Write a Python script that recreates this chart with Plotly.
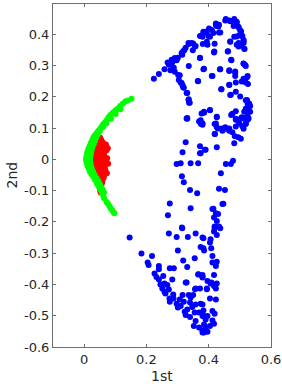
import plotly.graph_objects as go

# ---------------- data ----------------
blue_pts = [
    (0.224,0.258),(0.240,0.273),(0.258,0.288),(0.268,0.310),(0.272,0.303),(0.277,0.285),
    (0.281,0.319),(0.283,0.310),(0.288,0.293),(0.291,0.280),(0.291,0.324),(0.297,0.317),
    (0.301,0.325),(0.302,0.270),(0.304,0.254),(0.307,0.269),(0.310,0.246),(0.313,0.340),
    (0.313,0.244),(0.315,0.335),(0.316,0.237),(0.318,0.346),(0.318,0.231),(0.320,0.229),
    (0.322,0.350),(0.326,0.357),(0.329,0.212),(0.331,0.212),(0.335,0.190),(0.335,0.372),
    (0.336,0.369),(0.336,0.299),(0.336,0.192),(0.337,0.181),(0.339,0.181),(0.345,0.372),
    (0.349,0.349),(0.350,0.371),(0.356,0.361),(0.358,0.363),(0.365,0.251),(0.366,0.250),
    (0.372,0.325),(0.372,0.395),(0.372,0.324),(0.381,0.369),(0.383,0.408),(0.383,0.404),
    (0.383,0.288),(0.385,0.290),(0.380,0.392),(0.385,0.406),(0.394,0.409),(0.394,0.376),
    (0.396,0.367),(0.399,0.395),(0.401,0.419),(0.404,0.392),(0.410,0.414),(0.410,0.267),
    (0.412,0.267),(0.415,0.404),(0.417,0.342),(0.418,0.345),(0.419,0.370),(0.423,0.435),
    (0.423,0.430),(0.426,0.427),(0.431,0.425),(0.433,0.431),(0.433,0.406),(0.436,0.288),
    (0.437,0.406),(0.437,0.288),(0.440,0.224),(0.441,0.224),(0.453,0.444),(0.455,0.449),
    (0.461,0.345),(0.462,0.346),(0.466,0.444),(0.466,0.285),(0.466,0.283),(0.466,0.239),
    (0.466,0.238),(0.469,0.442),(0.469,0.376),(0.469,0.377),(0.469,0.206),(0.471,0.207),
    (0.472,0.319),(0.473,0.317),(0.480,0.441),(0.480,0.427),(0.482,0.449),(0.482,0.392),
    (0.485,0.278),(0.485,0.281),(0.485,0.267),(0.487,0.246),(0.487,0.216),(0.490,0.440),
    (0.490,0.436),(0.490,0.393),(0.490,0.367),(0.495,0.424),(0.496,0.423),(0.496,0.372),
    (0.496,0.361),(0.498,0.397),(0.501,0.413),(0.501,0.365),(0.501,0.201),(0.504,0.409),
    (0.506,0.395),(0.506,0.249),(0.508,0.395),(0.512,0.378),(0.512,0.382),(0.512,0.372),
    (0.512,0.306),(0.512,0.307),(0.512,0.258),(0.514,0.354),(0.515,0.353),(0.515,0.254),
    (0.517,0.302),(0.519,0.299),(0.519,0.246),(0.519,0.189),(0.523,0.263),(0.523,0.190),
    (0.525,0.267),(0.525,0.178),(0.526,0.241),(0.530,0.179),(0.530,0.168),(0.533,0.171),
    (0.519,0.162),(0.526,0.163),(0.514,0.152),(0.533,0.152),(0.525,0.139),(0.512,0.132),
    (0.487,0.154),(0.476,0.146),(0.487,0.130),(0.503,0.130),(0.404,0.157),(0.385,0.149),
    (0.426,0.136),(0.385,0.152),(0.374,0.125),(0.331,0.132),(0.329,0.131),
    (0.331,0.130),(0.372,0.122),(0.380,0.111),(0.377,0.147),(0.369,0.121),(0.375,0.113),
    (0.404,0.158),(0.426,0.135),(0.423,0.115),(0.429,0.099),(0.420,0.081),(0.442,0.099),
    (0.453,0.103),(0.466,0.099),(0.472,0.142),(0.490,0.128),(0.506,0.135),(0.519,0.113),
    (0.528,0.131),(0.523,0.158),(0.487,0.105),(0.380,0.116),(0.419,0.113),(0.426,0.103),
    (0.419,0.081),(0.444,0.092),(0.455,0.098),(0.466,0.092),(0.476,0.087),(0.484,0.074),
    (0.495,0.071),(0.503,0.066),(0.482,0.052),(0.487,0.127),(0.498,0.116),(0.508,0.106),
    (0.519,0.116),(0.525,0.127),(0.512,0.098),(0.326,0.055),(0.372,0.042),(0.387,0.031),
    (0.390,0.031),(0.316,0.023),(0.372,0.020),(0.374,0.020),(0.426,0.039),(0.297,-0.015),
    (0.310,-0.012),(0.342,-0.012),(0.366,-0.012),(0.455,-0.015),(0.471,-0.015),(0.478,-0.004),
    (0.314,-0.054),(0.320,-0.073),(0.439,-0.044),(0.340,-0.098),(0.363,-0.108),(0.433,-0.094),
    (0.452,-0.098),(0.275,-0.141),(0.342,-0.156),(0.444,-0.143),(0.447,-0.142),(0.269,-0.179),
    (0.412,-0.159),(0.415,-0.158),(0.423,-0.172),(0.430,-0.175),(0.417,-0.186),(0.426,-0.197),
    (0.419,-0.215),(0.433,-0.215),(0.437,-0.220),(0.314,-0.218),(0.315,-0.220),(0.419,-0.220),
    (0.417,-0.231),(0.426,-0.242),(0.272,-0.237),(0.297,-0.248),(0.333,-0.248),(0.358,-0.237),
    (0.380,-0.250),(0.146,-0.250),
    (0.406,-0.255),(0.404,-0.266),(0.383,-0.252),(0.301,-0.291),(0.374,-0.280),(0.385,-0.291),
    (0.383,-0.284),(0.408,-0.284),(0.184,-0.301),(0.218,-0.309),(0.412,-0.309),(0.204,-0.330),
    (0.207,-0.338),(0.240,-0.341),(0.318,-0.323),(0.355,-0.316),(0.412,-0.330),(0.426,-0.327),
    (0.423,-0.341),(0.275,-0.348),(0.288,-0.348),(0.331,-0.344),(0.240,-0.351),(0.226,-0.365),
    (0.232,-0.376),(0.240,-0.384),(0.254,-0.373),(0.283,-0.384),(0.366,-0.368),(0.380,-0.376),
    (0.367,-0.367),(0.380,-0.370),(0.417,-0.370),(0.380,-0.378),(0.245,-0.400),(0.258,-0.397),
    (0.267,-0.402),(0.251,-0.413),(0.272,-0.416),(0.329,-0.394),(0.326,-0.394),(0.358,-0.413),
    (0.372,-0.413),(0.356,-0.415),(0.394,-0.415),(0.396,-0.389),(0.406,-0.397),(0.417,-0.405),
    (0.426,-0.397),(0.394,-0.413),(0.423,-0.413),(0.409,-0.394),(0.420,-0.405),(0.258,-0.423),
    (0.261,-0.429),(0.286,-0.432),(0.316,-0.434),(0.336,-0.434),(0.350,-0.434),(0.342,-0.442),
    (0.274,-0.445),(0.287,-0.445),(0.307,-0.448),(0.404,-0.445),(0.423,-0.448),(0.275,-0.455),
    (0.320,-0.455),(0.340,-0.458),(0.297,-0.462),(0.358,-0.464),(0.380,-0.464),(0.374,-0.462),
    (0.310,-0.469),(0.301,-0.474),(0.347,-0.472),(0.331,-0.480),(0.383,-0.483),(0.412,-0.485),
    (0.323,-0.487),(0.355,-0.490),(0.369,-0.490),(0.419,-0.494),(0.326,-0.498),(0.385,-0.501),
    (0.396,-0.501),(0.380,-0.501),(0.340,-0.504),(0.390,-0.512),(0.412,-0.515),(0.358,-0.517),
    (0.417,-0.526),(0.385,-0.528),(0.352,-0.533),(0.404,-0.533),(0.369,-0.538),(0.390,-0.538),
    (0.380,-0.547),(0.396,-0.551),(0.380,-0.554),(0.385,-0.554),
]

green_pts = [
    (0.152,0.194),(0.140,0.188),(0.132,0.185),(0.124,0.178),(0.116,0.171),(0.108,0.163),
    (0.100,0.156),(0.092,0.149),(0.084,0.142),(0.078,0.134),(0.073,0.126),(0.068,0.120),
    (0.062,0.113),(0.057,0.106),(0.052,0.099),(0.046,0.092),(0.041,0.085),(0.035,0.078),
    (0.030,0.071),(0.026,0.062),(0.022,0.053),(0.018,0.044),(0.014,0.035),(0.011,0.026),
    (0.009,0.017),(0.007,0.008),(0.006,-0.002),(0.008,-0.011),(0.011,-0.021),(0.015,-0.030),
    (0.019,-0.040),(0.024,-0.048),(0.030,-0.056),(0.035,-0.066),(0.041,-0.077),(0.046,-0.086),
    (0.052,-0.096),(0.057,-0.106),(0.061,-0.116),(0.064,-0.124),
    (0.072,-0.136),(0.077,-0.143),(0.082,-0.151),(0.086,-0.157),(0.090,-0.163),(0.094,-0.168),
    (0.097,-0.172),
    (0.117,0.160),(0.101,0.145),(0.086,0.130),(0.071,0.115),(0.061,0.104),(0.050,0.090),
    (0.044,0.080),(0.039,0.070),(0.035,0.060),(0.031,0.050),(0.027,0.040),(0.024,0.030),
    (0.022,0.020),(0.020,0.010),(0.019,0.000),(0.020,-0.010),(0.022,-0.020),(0.025,-0.030),
    (0.029,-0.040),(0.034,-0.050),(0.040,-0.060),(0.046,-0.070),(0.051,-0.080),(0.056,-0.090),
    (0.060,-0.098),(0.064,-0.106),
]

red_pts = [
    (0.051,0.070),(0.047,0.062),(0.055,0.062),(0.043,0.054),(0.051,0.054),(0.060,0.054),
    (0.040,0.046),(0.048,0.046),(0.056,0.046),(0.066,0.046),(0.070,0.048),
    (0.037,0.038),(0.045,0.038),(0.053,0.038),(0.061,0.038),(0.070,0.038),(0.076,0.036),
    (0.035,0.030),(0.043,0.030),(0.051,0.030),(0.059,0.030),(0.067,0.030),(0.072,0.029),
    (0.033,0.022),(0.041,0.022),(0.049,0.022),(0.057,0.022),(0.065,0.022),
    (0.032,0.014),(0.040,0.014),(0.048,0.014),(0.056,0.014),(0.063,0.014),
    (0.031,0.006),(0.039,0.006),(0.047,0.006),(0.055,0.006),(0.063,0.006),(0.068,0.006),
    (0.074,0.004),
    (0.031,-0.002),(0.039,-0.002),(0.047,-0.002),(0.055,-0.002),(0.063,-0.002),(0.070,-0.002),
    (0.032,-0.010),(0.040,-0.010),(0.048,-0.010),(0.056,-0.010),(0.064,-0.010),(0.071,-0.010),
    (0.077,-0.014),
    (0.033,-0.018),(0.041,-0.018),(0.049,-0.018),(0.057,-0.018),(0.065,-0.018),
    (0.034,-0.026),(0.042,-0.026),(0.050,-0.026),(0.058,-0.026),(0.066,-0.026),
    (0.036,-0.034),(0.044,-0.034),(0.052,-0.034),(0.060,-0.034),(0.068,-0.034),
    (0.038,-0.042),(0.046,-0.042),(0.054,-0.042),(0.062,-0.042),(0.069,-0.042),(0.073,-0.044),
    (0.040,-0.050),(0.048,-0.050),(0.056,-0.050),(0.064,-0.050),
    (0.042,-0.058),(0.050,-0.058),(0.058,-0.058),(0.063,-0.058),
    (0.044,-0.066),(0.052,-0.066),(0.059,-0.066),
    (0.046,-0.074),(0.054,-0.074),(0.058,-0.074),
    (0.048,-0.082),(0.055,-0.082),(0.050,-0.090),(0.055,-0.090),
    (0.051,-0.098),(0.053,-0.106),
]

x_ticks = [0, 0.2, 0.4, 0.6]
x_tick_labels = ["0", "0.2", "0.4", "0.6"]
y_ticks = [-0.6, -0.5, -0.4, -0.3, -0.2, -0.1, 0, 0.1, 0.2, 0.3, 0.4]
y_tick_labels = ["-0.6", "-0.5", "-0.4", "-0.3", "-0.2", "-0.1", "0", "0.1", "0.2", "0.3", "0.4"]
x_title = "1st"
y_title = "2nd"

# ---------------- figure ----------------
fig = go.Figure()

def add_group(pts, color):
    xs = [p[0] for p in pts]
    ys = [p[1] for p in pts]
    fig.add_trace(go.Scatter(x=xs, y=ys, mode="markers",
                             marker=dict(color=color, size=6, line=dict(width=0)),
                             showlegend=False, hoverinfo="skip"))

add_group(blue_pts, "#0000FF")
add_group(red_pts, "#FF0000")
add_group(green_pts, "#00FF00")

axis_color = "#6e6e6e"
text_color = "#262626"
font_family = "DejaVu Sans"

fig.update_layout(
    width=282, height=386,
    margin=dict(l=53, r=11, t=4, b=39, autoexpand=False),
    plot_bgcolor="white", paper_bgcolor="white",
    font=dict(family=font_family, size=13, color=text_color),
    showlegend=False,
)
common = dict(showline=True, linecolor=axis_color, linewidth=1, mirror="ticks",
              ticks="inside", ticklen=3, tickcolor=axis_color, tickwidth=1,
              showgrid=False, zeroline=False, automargin=False,
              tickfont=dict(family=font_family, size=13, color=text_color))
fig.update_xaxes(range=[-0.1, 0.6], tickvals=x_ticks, ticktext=x_tick_labels, **common)
fig.update_yaxes(range=[-0.6, 0.497], tickvals=y_ticks, ticktext=y_tick_labels, **common)

fig.add_annotation(text=x_title, xref="paper", yref="paper", x=0.5, y=0,
                   yshift=-29, xanchor="center", yanchor="middle", showarrow=False,
                   font=dict(family=font_family, size=14, color=text_color))
fig.add_annotation(text=y_title, xref="paper", yref="paper", x=0, y=0.5,
                   xshift=-42, xanchor="center", yanchor="middle", showarrow=False,
                   textangle=-90,
                   font=dict(family=font_family, size=14, color=text_color))

fig.write_html(
    "out.html",
    config={"displayModeBar": False},
    post_script="document.body.style.margin='0';document.body.style.overflow='hidden';",
)
